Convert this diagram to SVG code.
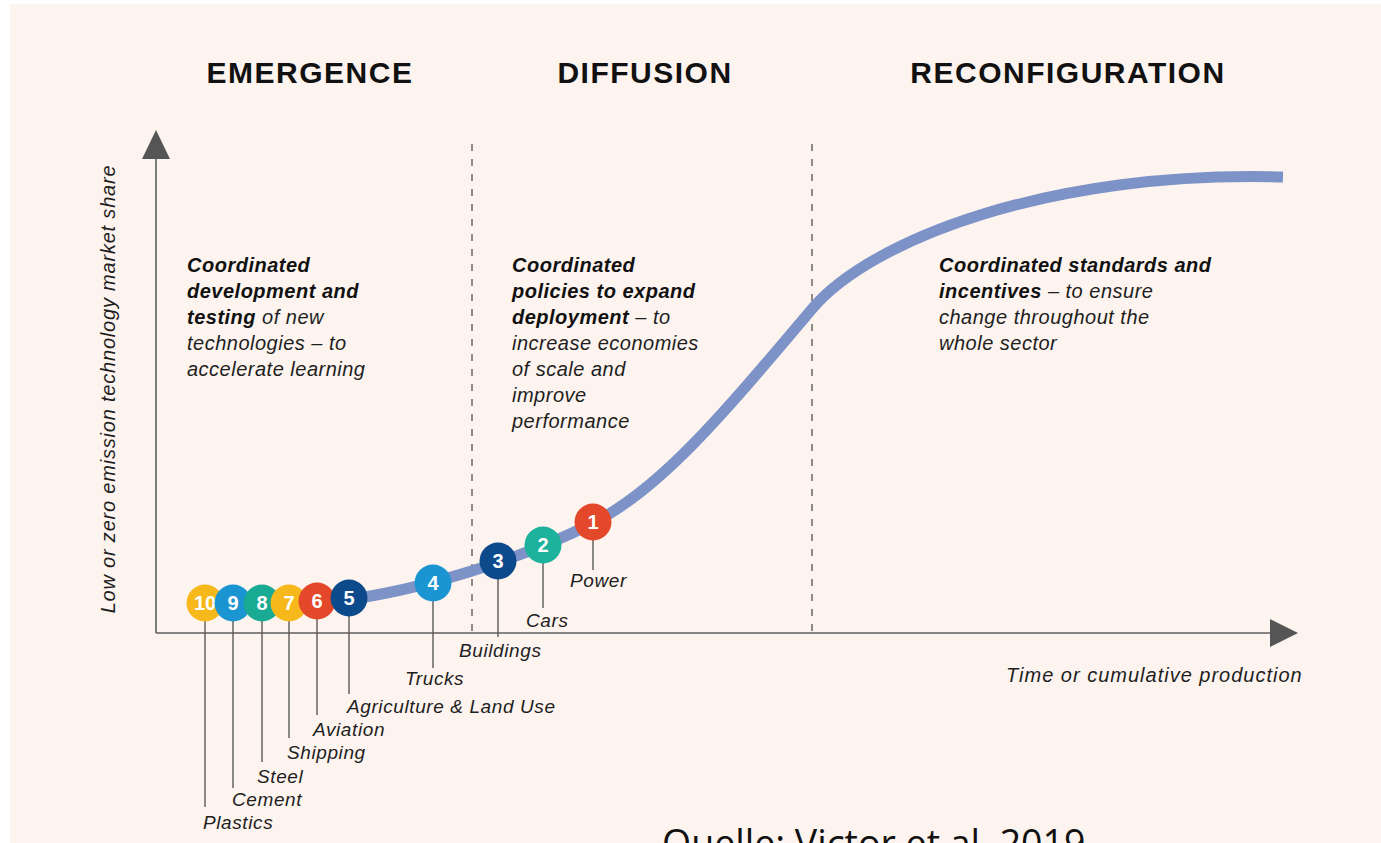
<svg xmlns="http://www.w3.org/2000/svg" width="1381" height="843" viewBox="0 0 1381 843">
  <style>
    .head { font-family: "Liberation Sans", Arial, sans-serif; font-weight: 700; font-size: 30px; letter-spacing: 1.5px; fill: #111; text-anchor: middle; }
    .body { font-family: "Liberation Sans", Arial, sans-serif; font-style: italic; font-size: 20px; letter-spacing: 0.5px; fill: #1e1e1e; }
    .b { font-weight: 700; fill: #111; }
    .lbl { font-family: "Liberation Sans", Arial, sans-serif; font-style: italic; font-size: 19px; letter-spacing: 0.6px; fill: #1e1e1e; }
    .num { font-family: "Liberation Sans", Arial, sans-serif; font-weight: 700; font-size: 20px; fill: #fff; text-anchor: middle; }
    .axis { stroke: #5f5f5f; stroke-width: 1.6; fill: none; }
    .phase { stroke: #444; stroke-width: 1.2; stroke-dasharray: 7 8; fill: none; }
    .leader { stroke: #5a5a5a; stroke-width: 1.4; fill: none; }
    .curve { stroke: #7d93c8; stroke-width: 11; fill: none; stroke-linecap: butt; }
    .src { font-family: "Open Sans", "Liberation Sans", sans-serif; font-size: 37.5px; fill: #111; }
  </style>

  <!-- page -->
  <rect x="0" y="0" width="1381" height="843" fill="#ffffff"/>
  <rect x="10" y="4" width="1371" height="839" fill="#fdf4ef"/>

  <!-- phase titles -->
  <text class="head" x="310" y="83">EMERGENCE</text>
  <text class="head" x="645" y="83">DIFFUSION</text>
  <text class="head" x="1068" y="83">RECONFIGURATION</text>

  <!-- axes -->
  <g id="axes">
    <line class="axis" x1="156" y1="633" x2="156" y2="155"/>
    <polygon points="156,130 170,159 142,159" fill="#555"/>
    <line class="axis" x1="156" y1="633" x2="1272" y2="633"/>
    <polygon points="1298,633 1270,619 1270,647" fill="#555"/>
    <text class="body" transform="translate(115,389) rotate(-90)" text-anchor="middle" style="letter-spacing:0.8px">Low or zero emission technology  market share</text>
    <text class="body" x="1006" y="682" style="letter-spacing:1px">Time or cumulative production</text>
  </g>

  <!-- phase boundaries -->
  <line class="phase" x1="472" y1="144" x2="472" y2="633"/>
  <line class="phase" x1="812" y1="144" x2="812" y2="633"/>

  <!-- phase descriptions -->
  <text class="body" x="187" y="272">
    <tspan class="b" x="187">Coordinated</tspan>
    <tspan class="b" x="187" dy="26">development and</tspan>
    <tspan class="b" x="187" dy="26">testing</tspan><tspan> of new</tspan>
    <tspan x="187" dy="26">technologies – to</tspan>
    <tspan x="187" dy="26">accelerate learning</tspan>
  </text>
  <text class="body" x="512" y="272">
    <tspan class="b" x="512">Coordinated</tspan>
    <tspan class="b" x="512" dy="26">policies to expand</tspan>
    <tspan class="b" x="512" dy="26">deployment</tspan><tspan> – to</tspan>
    <tspan x="512" dy="26">increase economies</tspan>
    <tspan x="512" dy="26">of scale and</tspan>
    <tspan x="512" dy="26">improve</tspan>
    <tspan x="512" dy="26">performance</tspan>
  </text>
  <text class="body" x="939" y="272">
    <tspan class="b" x="939">Coordinated standards and</tspan>
    <tspan class="b" x="939" dy="26">incentives</tspan><tspan> – to ensure</tspan>
    <tspan x="939" dy="26">change throughout the</tspan>
    <tspan x="939" dy="26">whole sector</tspan>
  </text>

  <!-- adoption curve and leader lines -->
  <g id="connectors">
    <path class="curve" d="M345,600 C420,590 520,560 593,523 C660,489 720,418 812,309 C870,240 1050,170 1283,177"/>
    <line class="leader" x1="205" y1="620" x2="205" y2="807"/>
    <line class="leader" x1="233" y1="620" x2="233" y2="788"/>
    <line class="leader" x1="262" y1="620" x2="262" y2="762"/>
    <line class="leader" x1="289" y1="620" x2="289" y2="738"/>
    <line class="leader" x1="317" y1="618" x2="317" y2="715"/>
    <line class="leader" x1="349" y1="616" x2="349" y2="694"/>
    <line class="leader" x1="433" y1="600" x2="433" y2="668"/>
    <line class="leader" x1="498" y1="578" x2="498" y2="637"/>
    <line class="leader" x1="543" y1="562" x2="543" y2="608"/>
    <line class="leader" x1="593" y1="540" x2="593" y2="570"/>
  </g>

  <!-- sector markers -->
  <g id="n10"><circle cx="205" cy="603" r="18.5" fill="#f6b81a"/><text class="num" x="205" y="610">10</text></g>
  <g id="n9"><circle cx="233" cy="603" r="18.5" fill="#1b94d2"/><text class="num" x="233" y="610">9</text></g>
  <g id="n8"><circle cx="262" cy="603" r="18.5" fill="#19aa94"/><text class="num" x="262" y="610">8</text></g>
  <g id="n7"><circle cx="289" cy="603" r="18.5" fill="#f6b81a"/><text class="num" x="289" y="610">7</text></g>
  <g id="n6"><circle cx="317" cy="601" r="18.5" fill="#e4482a"/><text class="num" x="317" y="608">6</text></g>
  <g id="n5"><circle cx="349" cy="598" r="18.5" fill="#0c4a8c"/><text class="num" x="349" y="605">5</text></g>
  <g id="n4"><circle cx="433" cy="583" r="18.5" fill="#1b94d2"/><text class="num" x="433" y="590">4</text></g>
  <g id="n3"><circle cx="498" cy="561" r="18.5" fill="#0c4a8c"/><text class="num" x="498" y="568">3</text></g>
  <g id="n2"><circle cx="543" cy="545" r="18.5" fill="#1cb29b"/><text class="num" x="543" y="552">2</text></g>
  <g id="n1"><circle cx="593" cy="522" r="18.5" fill="#e4482a"/><text class="num" x="593" y="529">1</text></g>

  <!-- sector labels -->
  <g id="labels">
    <text class="lbl" x="203" y="829">Plastics</text>
    <text class="lbl" x="232" y="806">Cement</text>
    <text class="lbl" x="257" y="783">Steel</text>
    <text class="lbl" x="287" y="759">Shipping</text>
    <text class="lbl" x="313" y="736">Aviation</text>
    <text class="lbl" x="347" y="713">Agriculture &amp; Land Use</text>
    <text class="lbl" x="405" y="685">Trucks</text>
    <text class="lbl" x="459" y="657">Buildings</text>
    <text class="lbl" x="526" y="627">Cars</text>
    <text class="lbl" x="570" y="587">Power</text>
  </g>

  <!-- source line -->
  <text class="src" x="662" y="857">Quelle: Victor et al. 2019</text>
</svg>
